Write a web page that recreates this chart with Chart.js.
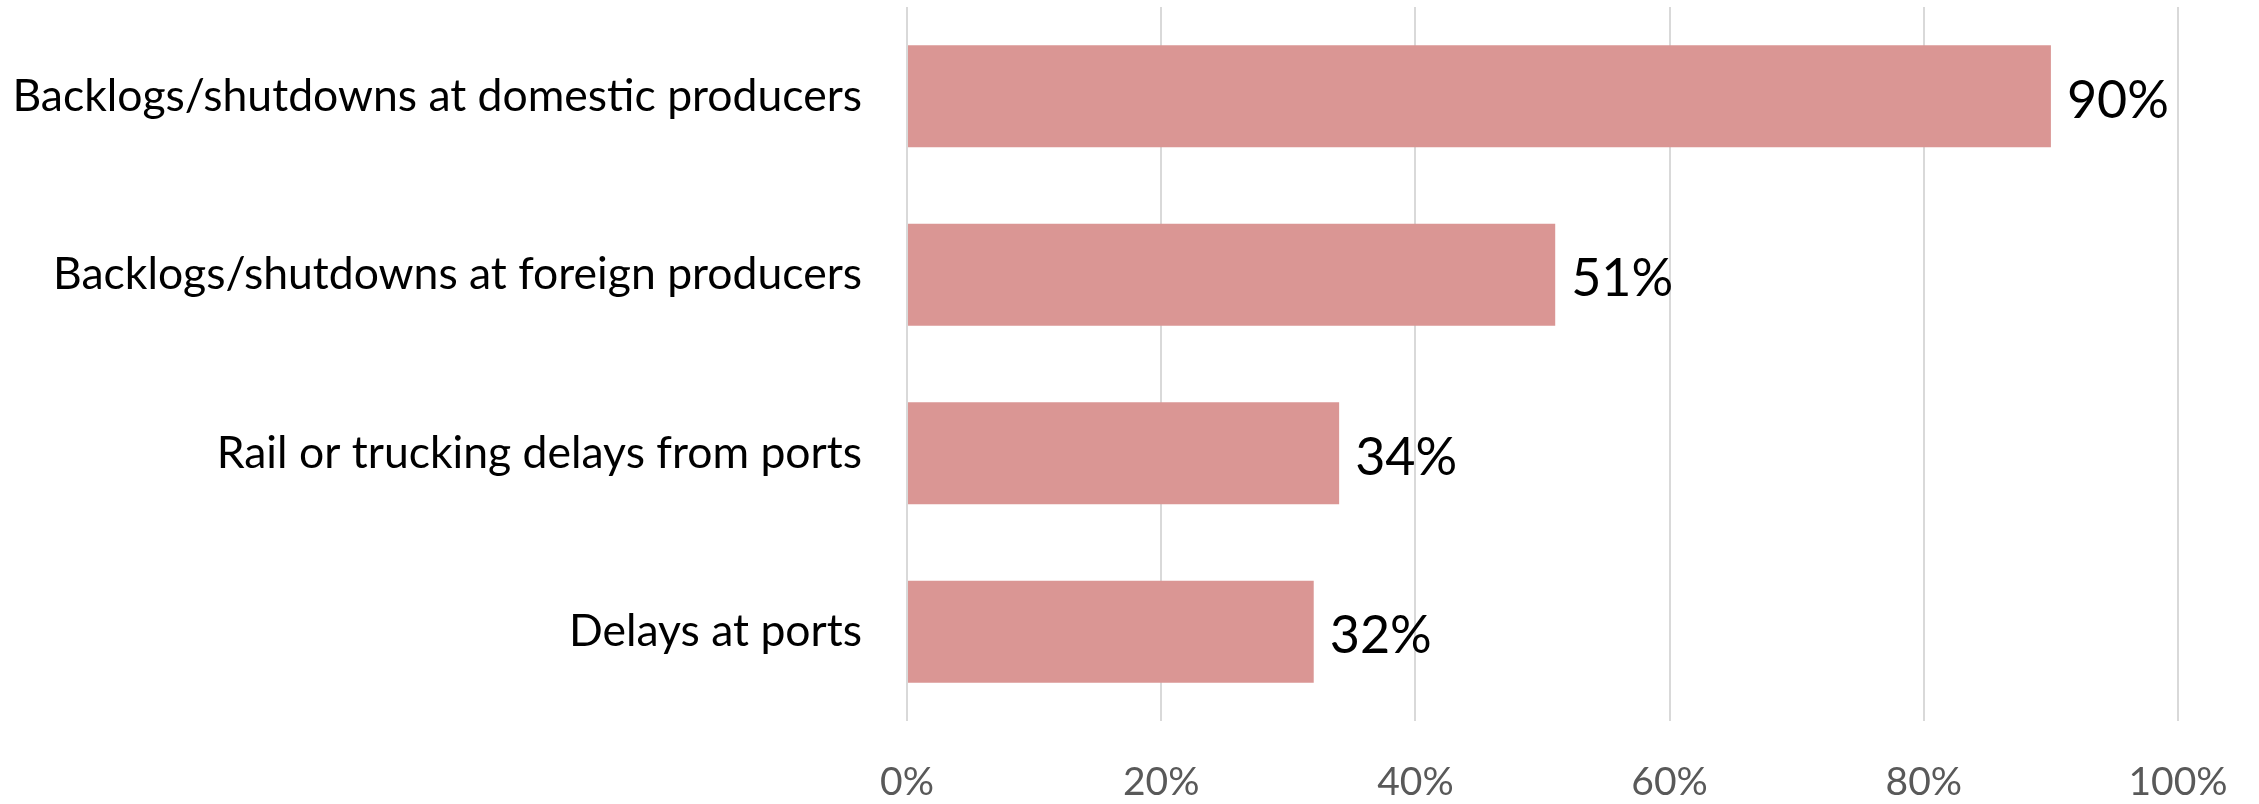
<!DOCTYPE html>
<html>
<head>
<meta charset="utf-8">
<script src="https://cdn.jsdelivr.net/npm/chart.js@4.4.1/dist/chart.umd.min.js"></script>
<style>
  html, body { margin: 0; padding: 0; background: #ffffff; }
  #wrap { width: 2259px; height: 804px; position: relative; }
</style>
</head>
<body>
<div id="wrap"><canvas id="c" width="2259" height="804"></canvas></div>
<script>
const categories = [
  "Backlogs/shutdowns at domestic producers",
  "Backlogs/shutdowns at foreign producers",
  "Rail or trucking delays from ports",
  "Delays at ports"
];
const values = [90, 51, 34, 32];
const tickValues = [0, 20, 40, 60, 80, 100];

const FONT = "Lato, 'Open Sans', sans-serif";

const valueLabels = {
  id: 'valueLabels',
  afterDatasetsDraw(chart) {
    const ctx = chart.ctx;
    const meta = chart.getDatasetMeta(0);
    const size = 52;
    ctx.save();
    ctx.font = size + "px " + FONT;
    ctx.fillStyle = "#000000";
    ctx.textAlign = "left";
    ctx.textBaseline = "alphabetic";
    meta.data.forEach((el, i) => {
      ctx.fillText(values[i] + "%", el.x + 16, el.y + 3 + size * 0.36);
    });
    ctx.restore();
  }
};

new Chart(document.getElementById('c'), {
  type: 'bar',
  data: {
    labels: categories,
    datasets: [{
      data: values,
      backgroundColor: '#DA9694',
      borderWidth: 0,
      categoryPercentage: 1.0,
      barPercentage: 0.571
    }]
  },
  options: {
    indexAxis: 'y',
    responsive: false,
    animation: false,
    devicePixelRatio: 1,
    layout: { padding: { left: 0, right: 81, top: 7, bottom: 0 } },
    plugins: { legend: { display: false }, tooltip: { enabled: false } },
    scales: {
      x: {
        type: 'linear',
        min: 0,
        max: 100,
        afterBuildTicks(scale) { scale.ticks = tickValues.map(v => ({ value: v })); },
        afterFit(scale) { scale.height = 83; scale.paddingRight = 0; scale.paddingLeft = 0; },
        ticks: {
          callback: v => v + '%',
          color: '#595959',
          font: { family: FONT, size: 39 },
          padding: 38,
          maxRotation: 0
        },
        grid: { color: '#D9D9D9', lineWidth: 2, drawTicks: false },
        border: { display: false }
      },
      y: {
        afterFit(scale) { scale.width = 907; scale.paddingTop = 0; scale.paddingBottom = 0; },
        ticks: {
          color: '#000000',
          font: { family: FONT, size: 44.5 },
          padding: 45
        },
        grid: { display: false, drawTicks: false },
        border: { display: false }
      }
    }
  },
  plugins: [valueLabels]
});
</script>
</body>
</html>
